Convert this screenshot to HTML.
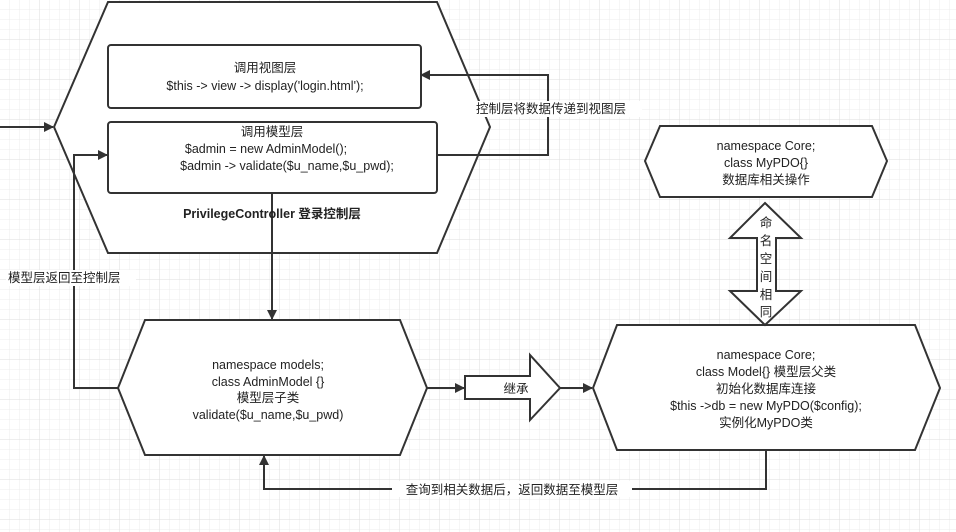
<!DOCTYPE html>
<html><head><meta charset="utf-8"><style>
body{margin:0;background:#fff;}
svg{display:block;}
text{font-family:"Liberation Sans","Noto Sans CJK SC",sans-serif;font-size:12.5px;fill:#222;}
</style></head><body>
<svg width="956" height="532" viewBox="0 0 956 532" xmlns="http://www.w3.org/2000/svg">
<defs>
<pattern id="g" width="10" height="10" patternUnits="userSpaceOnUse"><path d="M10 0V10H0" fill="none" stroke="#ececec" stroke-width="1"/></pattern>
<pattern id="G" width="40" height="40" patternUnits="userSpaceOnUse"><rect width="40" height="40" fill="url(#g)"/><path d="M40 0V40H0" fill="none" stroke="#dedede" stroke-width="1"/></pattern>
<marker id="a" markerWidth="10" markerHeight="10" refX="9" refY="5" orient="auto" markerUnits="userSpaceOnUse"><path d="M0 0L10 5L0 10Z" fill="#333"/></marker>
</defs>
<rect width="956" height="532" fill="url(#G)"/>
<g stroke="#333" stroke-width="2" fill="#fff">
<polygon points="108,2 437,2 490,127 437,253 108,253 54,127"/>
<rect x="108" y="45" width="313" height="63" rx="3"/>
<rect x="108" y="122" width="329" height="71" rx="3"/>
<polygon points="145,320 400,320 427,388 400,455 145,455 118,388"/>
<polygon points="617,325 915,325 940,388 915,450 617,450 593,388"/>
<polygon points="660,126 872,126 887,161 872,197 660,197 645,161"/>
<polygon points="765,203 801,238 776,238 776,291 801,291 765,325 730,291 757,291 757,238 730,238"/>
<polygon points="465,376 530,376 530,355 560,388 530,420 530,399 465,399"/>
</g>
<g stroke="#333" stroke-width="2" fill="none">
<path d="M0 127H53" marker-end="url(#a)"/>
<path d="M437 155H548V75H421" marker-end="url(#a)"/>
<path d="M272 193V319" marker-end="url(#a)"/>
<path d="M118 388H74V155H107" marker-end="url(#a)"/>
<path d="M427 388H464" marker-end="url(#a)"/>
<path d="M560 388H592" marker-end="url(#a)"/>
<path d="M766 450V489H264V456" marker-end="url(#a)"/>
</g>
<rect x="460" y="101" width="182" height="16" fill="#fff"/>
<text x="551" y="113" text-anchor="middle">控制层将数据传递到视图层</text>
<rect x="6" y="270" width="130" height="16" fill="#fff"/>
<text x="8" y="282">模型层返回至控制层</text>
<rect x="392" y="481" width="240" height="16" fill="#fff"/>
<text x="512" y="494" text-anchor="middle">查询到相关数据后，返回数据至模型层</text>
<g text-anchor="middle">
<text x="265" y="72">调用视图层</text>
<text x="265" y="90">$this -&gt; view -&gt; display('login.html');</text>
<text x="272" y="136">调用模型层</text>
<text x="266" y="153">$admin = new AdminModel();</text>
<text x="287" y="170">$admin -&gt; validate($u_name,$u_pwd);</text>
<text x="272" y="218" style="font-weight:bold">PrivilegeController 登录控制层</text>
<text x="268" y="369">namespace models;</text>
<text x="268" y="386">class AdminModel  {}</text>
<text x="268" y="402">模型层子类</text>
<text x="268" y="419">validate($u_name,$u_pwd)</text>
<text x="766" y="359">namespace Core;</text>
<text x="766" y="376">class Model{}  模型层父类</text>
<text x="766" y="393">初始化数据库连接</text>
<text x="766" y="410">$this -&gt;db = new MyPDO($config);</text>
<text x="766" y="427">实例化MyPDO类</text>
<text x="766" y="150">namespace Core;</text>
<text x="766" y="167">class MyPDO{}</text>
<text x="766" y="184">数据库相关操作</text>
<text x="516" y="393">继承</text>
<text x="766" y="227">命</text>
<text x="766" y="245">名</text>
<text x="766" y="263">空</text>
<text x="766" y="281">间</text>
<text x="766" y="299">相</text>
<text x="766" y="316">同</text>
</g>
</svg>
</body></html>
